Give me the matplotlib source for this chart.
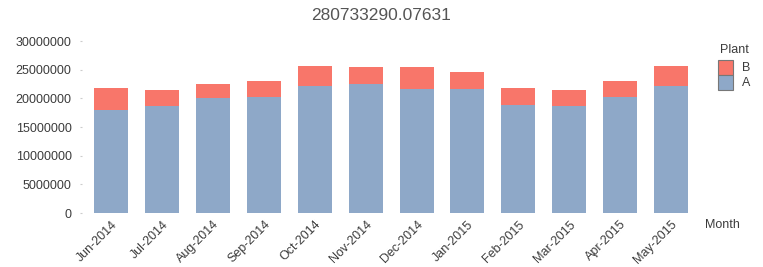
import matplotlib
matplotlib.use("Agg")
import matplotlib.pyplot as plt
from matplotlib.patches import Rectangle

months = ["Jun-2014", "Jul-2014", "Aug-2014", "Sep-2014", "Oct-2014", "Nov-2014",
          "Dec-2014", "Jan-2015", "Feb-2015", "Mar-2015", "Apr-2015", "May-2015"]
plant_a = [18030000, 18670000, 20070000, 20250000, 22170000, 22520000,
           21650000, 21650000, 18850000, 18670000, 20250000, 22170000]
plant_b_total = [21820000, 21470000, 22520000, 23050000, 25670000, 25500000,
                 25500000, 24620000, 21820000, 21470000, 23050000, 25670000]
plant_b = [t - a for t, a in zip(plant_b_total, plant_a)]
legend_labels = ["B", "A"]
title_text = "280733290.07631"
yticks = [0, 5000000, 10000000, 15000000, 20000000, 25000000, 30000000]

plt.rcParams['font.family'] = ['Liberation Sans', 'DejaVu Sans']
color_a = "#8EA8C8"
color_b = "#F8766A"
text_col = "#3c3c3c"
W, H = 763, 267

fig = plt.figure(figsize=(W / 100, H / 100), dpi=100)
ax = fig.add_axes([0.1075, 0.2022, 0.921 - 0.1075, 0.8464 - 0.2022])
x = list(range(len(months)))
ax.bar(x, plant_a, width=0.667, color=color_a, linewidth=0)
ax.bar(x, plant_b, bottom=plant_a, width=0.667, color=color_b, linewidth=0)
ax.set_xlim(-0.57, 11.62)
ax.set_ylim(0, 30000000)
for s in ax.spines.values():
    s.set_visible(False)
ax.set_yticks(yticks)
ax.set_yticklabels([str(v) for v in yticks], fontsize=9, color=text_col)
ax.tick_params(axis='y', length=1.5, width=0.8, color="#cccccc", pad=6)
ax.set_xticks(x)
ax.set_xticklabels(months, rotation=45, ha='right', rotation_mode='anchor',
                   fontsize=9, color=text_col)
ax.tick_params(axis='x', length=0, pad=4)

fig.text(0.5, 1 - 15 / H, title_text, ha='center', va='center', fontsize=12.5, color="#555555")
fig.text(705 / W, 1 - 225 / H, "Month", ha='left', va='center', fontsize=9, color=text_col)

# legend drawn in figure pixel space
fig.text(734 / W, 1 - 50 / H, "Plant", ha='center', va='center', fontsize=9, color=text_col)
for i, (lab, col) in enumerate(zip(legend_labels, [color_b, color_a])):
    top = 60 + 15 * i
    fig.patches.append(Rectangle((718 / W, 1 - (top + 15) / H), 15 / W, 15 / H,
                                 transform=fig.transFigure, facecolor=col,
                                 edgecolor="#777777", linewidth=0.8))
    fig.text(742 / W, 1 - (top + 7.5) / H, lab, ha='left', va='center',
             fontsize=9, color=text_col)

fig.savefig("out.png", dpi=100)
